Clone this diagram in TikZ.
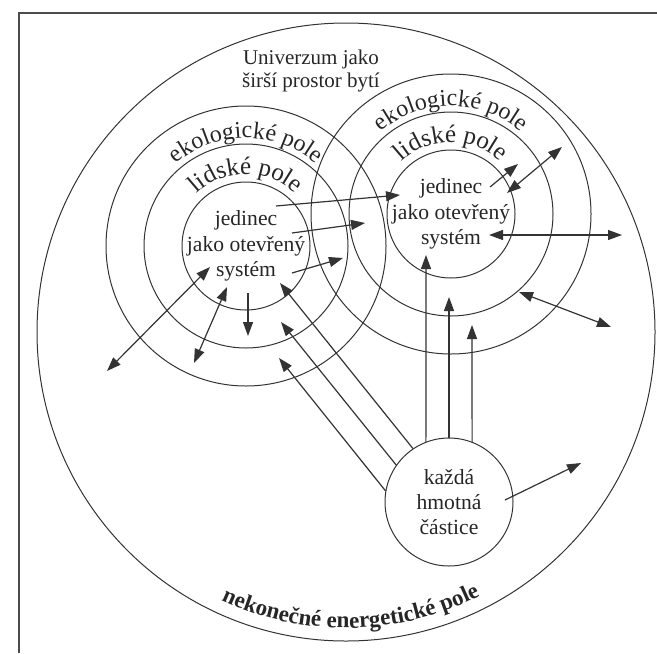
\documentclass[tikz,border=0pt]{standalone}
\usepackage{fontspec}
\setmainfont{Liberation Serif}
\usepackage{tikz}
\usetikzlibrary{arrows.meta,positioning,decorations.text}
\tikzset{ring/.style={draw=black!80,circle,inner sep=0pt,line width=0.5pt}}
\tikzset{core/.style={align=center,text=black!85,font=\fontsize{10.8}{12.6}\selectfont}}
\tikzset{field/.style={decorate,decoration={text along path,text align=center,
  text={|\fontsize{12}{12}\selectfont\color{black!85}|#1}}}}
\tikzset{field2/.style={decorate,decoration={text along path,text align=center,
  text={|\fontsize{12.5}{12.5}\selectfont\color{black!85}|#1}}}}
\tikzset{rim/.style={decorate,decoration={text along path,text align=center,
  text={|\bfseries\fontsize{11.5}{11.5}\selectfont\color{black!85}|#1}}}}

\begin{document}
\begin{tikzpicture}[x=0.5pt, y=-0.5pt, >={Triangle[length=7pt,width=5pt]}, line width=0.6pt, black!80]
        \useasboundingbox (0,0) rectangle (657,653);
        \draw[black!70, line width=1.2pt] (657,13) -- (19,13) -- (19,653);
        \node[ring, minimum size=309pt] (world) at (346,332) {};
        \node[ring, minimum size=140pt] (Leco) at (246,246) {};
        \node[ring, minimum size=102pt] (Lhum) at (246,246) {};
        \node[ring, minimum size=64pt] (Lself) at (246,246) {};
        \node[ring, minimum size=140pt] (Reco) at (451,214) {};
        \node[ring, minimum size=102pt] (Rhum) at (451,214) {};
        \node[ring, minimum size=64pt] (Rself) at (451,214) {};
        \node[ring, core, minimum size=64pt] (part) at (449,502) {každá\\hmotná\\částice};
        \node[core] (Ltext) at (Lself) {jedinec\\jako otevřený\\systém};
        \node[core] (Rtext) at (Rself) {jedinec\\jako otevřený\\systém};
        \node[core, font=\fontsize{10.5}{11.8}\selectfont] (cosmos) at (311,71) {Univerzum jako\\širší prostor bytí};
        \path[field=ekologické pole] (Leco.center) ++(-140:108) arc[start angle=-140, end angle=-40, radius=108];
        \path[field2=lidské pole] (Lhum.center) ++(-140:72) arc[start angle=-140, end angle=-40, radius=72];
        \path[field=ekologické pole] (Reco.center) ++(-140:108) arc[start angle=-140, end angle=-40, radius=108];
        \path[field2=lidské pole] (Rhum.center) ++(-140:72) arc[start angle=-140, end angle=-40, radius=72];
        \path[rim=nekonečné energetické pole] (world.center) ++(-221:296) arc[start angle=-221, end angle=-321, radius=296];
        \coordinate (s1) at (276,206);
        \coordinate (e1) at (400,195);
        \coordinate (s2) at (292,233);
        \coordinate (e2) at (365,223);
        \coordinate (s3) at (292,273);
        \coordinate (e3) at (343,258);
        \coordinate (s4) at (210,267);
        \coordinate (e4) at (107,371);
        \coordinate (s5) at (227,287);
        \coordinate (e5) at (194,363);
        \coordinate (s6) at (248,293);
        \coordinate (e6) at (248,336);
        \coordinate (t1) at (280,283);
        \coordinate (t2) at (281,322);
        \coordinate (t3) at (279,358);
        \coordinate (t4) at (426,255);
        \coordinate (t5) at (449,297);
        \coordinate (t6) at (472,325);
        \coordinate (s7) at (505,500);
        \coordinate (e7) at (581,463);
        \coordinate (s8) at (490,187);
        \coordinate (e8) at (518,164);
        \coordinate (s9) at (507,193);
        \coordinate (e9) at (562,147);
        \coordinate (s10) at (489,235);
        \coordinate (e10) at (622,235);
        \coordinate (s11) at (519,292);
        \coordinate (e11) at (611,327);
        \draw[->] (s1) -- (e1);
        \draw[->] (s2) -- (e2);
        \draw[->] (s3) -- (e3);
        \draw[<->] (s4) -- (e4);
        \draw[<->] (s5) -- (e5);
        \draw[->] (s6) -- (e6);
        \draw[->] (part.124) -- (t1);
        \draw[->] (part.145) -- (t2);
        \draw[->] (part.170) -- (t3);
        \draw[->] (part.111) -- (t4);
        \draw[->] (part.90) -- (t5);
        \draw[->] (part.69) -- (t6);
        \draw[->] (s7) -- (e7);
        \draw[->] (s8) -- (e8);
        \draw[<->] (s9) -- (e9);
        \draw[<->] (s10) -- (e10);
        \draw[<->] (s11) -- (e11);
\end{tikzpicture}
\end{document}
